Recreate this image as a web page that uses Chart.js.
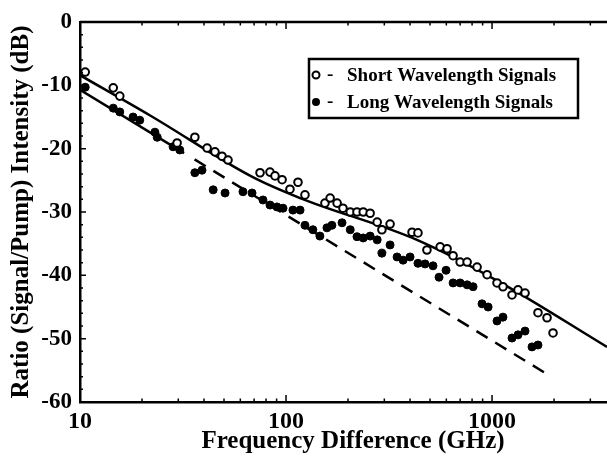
<!DOCTYPE html>
<html>
<head>
<meta charset="utf-8">
<script src="https://cdn.jsdelivr.net/npm/chart.js@4.4.1/dist/chart.umd.min.js"></script>
<style>
html, body { margin: 0; padding: 0; background: #fff; overflow: hidden; }
#wrap { width: 613px; height: 461px; position: relative; }
</style>
</head>
<body>
<div id="wrap"><canvas id="chart"></canvas></div>
<script>
// Short wavelength signals (open circles)
const shortFreq = [10.6, 14.5, 15.6, 29.6, 36.1, 41.4, 45.2, 48.9, 52.3, 74.8, 83.6, 88.4, 95.7, 104.5, 114.3, 123.6,
    154.5, 163.7, 177, 189, 205, 221, 237, 256, 277, 292, 320, 409, 437, 483, 560, 605, 647, 700, 757, 846,
    946, 1057, 1130, 1250, 1337, 1446, 1671, 1849, 1977];
const shortDb = [-7.9, -10.4, -11.7, -19.1, -18.2, -19.9, -20.5, -21.2, -21.8, -23.8, -23.7, -24.3, -24.9, -26.4, -25.3, -27.3,
    -28.6, -27.8, -28.6, -29.4, -30.0, -30.0, -30.0, -30.2, -31.6, -32.8, -31.9, -33.2, -33.3, -36.0, -35.5, -35.8, -36.9, -37.9, -37.9, -38.7,
    -39.9, -41.2, -41.8, -43.1, -42.3, -42.8, -45.9, -46.7, -49.1];

// Long wavelength signals (filled circles)
const longFreq = [10.6, 14.5, 15.6, 18.1, 19.5, 23.1, 23.7, 28.3, 30.5, 36.1, 39.1, 44.3, 50.6, 61.8, 68.4, 77.3, 83.6, 90.4,
    96.7, 108, 117, 123.6, 135, 146, 158, 167, 187, 205, 221, 237, 256, 277, 292, 320, 346, 370, 400, 437, 473, 517,
    553, 598, 647, 700, 757, 809, 894, 957, 1057, 1130, 1250, 1337, 1446, 1563, 1671];
const longDb = [-10.3, -13.6, -14.2, -15.0, -15.5, -17.4, -18.2, -19.7, -20.2, -23.8, -23.4, -26.5, -27.0, -26.8, -27.0, -28.1, -28.9, -29.2,
    -29.4, -29.7, -29.7, -32.1, -32.8, -33.8, -32.5, -32.1, -31.7, -32.8, -33.9, -34.1, -33.8, -34.4, -36.5, -35.2, -37.1, -37.6, -37.1, -38.1, -38.2, -38.5,
    -40.3, -39.2, -41.2, -41.2, -41.5, -41.8, -44.5, -45.0, -47.2, -46.6, -49.9, -49.4, -48.8, -51.3, -51.0];

// Solid fitted curve through short wavelength data
const fitFreq = [10, 22, 69, 117, 432, 1094, 3614];
const fitDb = [-8.4, -14.8, -24.5, -27.8, -34.4, -41.1, -51.3];

// Straight line for long wavelength: solid part, then dashed part
const lowSolidFreq = [10, 32];
const lowSolidDb = [-10.7, -20.7];
const lowDashFreq = [36, 1850];
const lowDashDb = [-21.7, -55.6];

const xTicks = [10, 100, 1000];
const yTicks = [0, -10, -20, -30, -40, -50, -60];

const serif = "'Liberation Serif', 'DejaVu Serif', serif";
const pts = (xs, ys) => xs.map((x, i) => ({ x: x, y: ys[i] }));

const frameTicks = {
    id: "frameTicks",
    afterDraw(chart) {
        const ctx = chart.ctx;
        const a = chart.chartArea;
        const xs = chart.scales.x;
        const ys = chart.scales.y;
        ctx.save();
        ctx.strokeStyle = "#000";
        ctx.lineWidth = 2.5;
        ctx.beginPath();
        ctx.moveTo(a.left, a.top);
        ctx.lineTo(a.right, a.top);
        ctx.stroke();

        ctx.lineWidth = 1.5;
        ctx.beginPath();
        // y ticks, inward
        for (let v = 0; v >= -60; v -= 2) {
            const y = ys.getPixelForValue(v);
            const len = v % 10 === 0 ? 6 : 3;
            ctx.moveTo(a.left, y);
            ctx.lineTo(a.left + len, y);
        }
        // x log ticks, bottom and top
        for (let d = 10; d <= 1000; d *= 10) {
            for (let m = 1; m <= 9; m++) {
                const v = d * m;
                if (v > xs.max) break;
                const x = xs.getPixelForValue(v);
                const len = m === 1 ? 7 : 3.5;
                ctx.moveTo(x, a.bottom);
                ctx.lineTo(x, a.bottom - len);
                ctx.moveTo(x, a.top);
                ctx.lineTo(x, a.top + len);
            }
        }
        ctx.stroke();

        // x axis title (slightly right of the axis centre, as in the original)
        ctx.fillStyle = "#000";
        ctx.font = "bold 25px " + serif;
        ctx.textAlign = "center";
        ctx.textBaseline = "middle";
        ctx.fillText("Frequency Difference (GHz)", 353, 442);

        // legend box
        ctx.lineWidth = 2.5;
        ctx.strokeRect(309, 59, 269, 59);
        ctx.lineWidth = 2;
        ctx.beginPath();
        ctx.arc(316, 75, 3.5, 0, Math.PI * 2);
        ctx.fillStyle = "#fff";
        ctx.fill();
        ctx.stroke();
        ctx.beginPath();
        ctx.arc(316, 102, 4, 0, Math.PI * 2);
        ctx.fillStyle = "#000";
        ctx.fill();
        ctx.font = "bold 19px " + serif;
        ctx.textAlign = "left";
        ctx.fillText("-", 327, 75);
        ctx.fillText("-", 327, 102);
        ctx.fillText("Short Wavelength Signals", 347, 76);
        ctx.fillText("Long Wavelength Signals", 347, 103);
        ctx.restore();
    }
};

new Chart(document.getElementById("chart"), {
    type: "scatter",
    data: {
        datasets: [
            {
                label: "Short Wavelength Signals",
                data: pts(shortFreq, shortDb),
                pointStyle: "circle",
                pointRadius: 3.8,
                pointBackgroundColor: "#fff",
                pointBorderColor: "#000",
                pointBorderWidth: 2,
                showLine: false
            },
            {
                label: "Long Wavelength Signals",
                data: pts(longFreq, longDb),
                pointStyle: "circle",
                pointRadius: 4,
                pointBackgroundColor: "#000",
                pointBorderColor: "#000",
                pointBorderWidth: 1,
                showLine: false
            },
            {
                label: "fit",
                data: pts(fitFreq, fitDb),
                showLine: true,
                pointRadius: 0,
                borderColor: "#000",
                borderWidth: 2.5,
                cubicInterpolationMode: "monotone"
            },
            {
                label: "low solid",
                data: pts(lowSolidFreq, lowSolidDb),
                showLine: true,
                pointRadius: 0,
                borderColor: "#000",
                borderWidth: 2.5
            },
            {
                label: "low dashed",
                data: pts(lowDashFreq, lowDashDb),
                showLine: true,
                pointRadius: 0,
                borderColor: "#000",
                borderWidth: 2.5,
                borderDash: [13, 9]
            }
        ]
    },
    options: {
        responsive: true,
        maintainAspectRatio: false,
        animation: false,
        layout: { padding: { top: 22, right: 0, left: 0, bottom: 0 } },
        plugins: {
            legend: { display: false },
            tooltip: { enabled: false }
        },
        scales: {
            x: {
                type: "logarithmic",
                min: 10,
                max: 3614,
                afterBuildTicks: s => { s.ticks = xTicks.map(v => ({ value: v })); },
                afterFit: s => { s.height = 59; },
                grid: { display: false, drawTicks: false },
                border: { display: true, color: "#000", width: 2.5 },
                ticks: {
                    color: "#000",
                    padding: 5,
                    maxRotation: 0,
                    font: { family: serif, size: 24, weight: "bold" },
                    callback: v => String(v)
                },
                title: { display: false }
            },
            y: {
                min: -60,
                max: 0,
                afterBuildTicks: s => { s.ticks = yTicks.map(v => ({ value: v })); },
                afterFit: s => { s.width = 80; },
                grid: { display: false, drawTicks: false },
                border: { display: true, color: "#000", width: 2.5 },
                ticks: {
                    color: "#000",
                    padding: 8,
                    font: { family: serif, size: 23, weight: "bold" },
                    callback: v => String(v)
                },
                title: {
                    display: true,
                    text: "Ratio (Signal/Pump) Intensity (dB)",
                    color: "#000",
                    padding: { top: 7, bottom: 0 },
                    font: { family: serif, size: 25, weight: "bold" }
                }
            }
        }
    },
    plugins: [frameTicks]
});
</script>
</body>
</html>
